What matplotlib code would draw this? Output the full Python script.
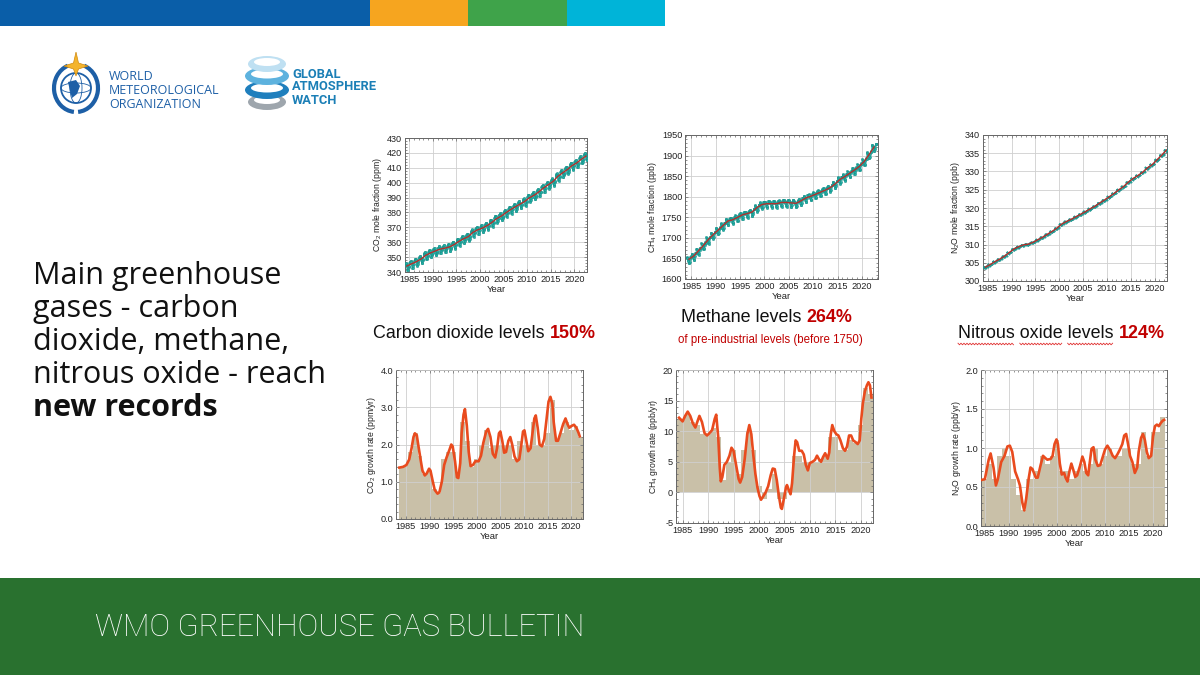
import numpy as np
import matplotlib
matplotlib.use("Agg")
import matplotlib.pyplot as plt
from matplotlib.patches import Rectangle, Ellipse, Circle, Arc, Polygon
from matplotlib.lines import Line2D
from matplotlib.ticker import MultipleLocator, FormatStrFormatter

plt.rcParams['font.family'] = ['Liberation Sans', 'DejaVu Sans']
plt.rcParams['mathtext.fontset'] = 'custom'
plt.rcParams['mathtext.rm'] = 'Liberation Sans'
plt.rcParams['mathtext.it'] = 'Liberation Sans:italic'

W, H = 1200, 675

# ---------------- data ----------------
years = list(range(1984, 2023))

# annual mean mole fractions (red trend lines)
co2_annual = [344.0, 345.5, 346.9, 348.7, 351.2, 352.8, 354.1, 355.3, 356.0, 356.8,
              358.4, 360.5, 362.3, 363.7, 366.6, 368.3, 369.5, 371.1, 373.2, 375.8,
              377.5, 379.8, 381.9, 383.8, 385.6, 387.4, 389.9, 391.6, 393.8, 396.5,
              398.6, 400.8, 404.2, 406.5, 408.7, 411.4, 413.2, 415.7, 417.9]
ch4_annual = [1648, 1656, 1669, 1682, 1696, 1708, 1719, 1730, 1741, 1744,
              1750, 1756, 1759, 1763, 1774, 1781, 1783, 1783, 1783, 1786,
              1786, 1785, 1784, 1790, 1797, 1801, 1806, 1811, 1816, 1822,
              1831, 1842, 1849, 1857, 1865, 1874, 1886, 1903, 1921]
n2o_annual = [303.8, 304.5, 305.3, 306.0, 306.8, 307.8, 308.8, 309.4, 309.9, 310.1,
              310.6, 311.3, 312.0, 312.8, 313.6, 314.5, 315.6, 316.3, 316.9, 317.6,
              318.3, 319.0, 319.8, 320.5, 321.4, 322.2, 323.1, 324.0, 325.0, 325.9,
              327.1, 328.1, 328.9, 329.8, 331.0, 331.9, 333.2, 334.5, 335.9]

# monthly departures from the annual mean (cyan points)
co2_season = [0.6, 1.1, 1.5, 1.9, 2.0, 1.0, -0.9, -2.5, -2.8, -1.5, -0.4, 0.2]
ch4_season = [5, 4, 2, -1, -5, -9, -10, -6, 1, 6, 7, 6]
n2o_season = [0.1, 0.05, -0.05, -0.15, -0.25, -0.3, -0.2, 0.05, 0.2, 0.25, 0.2, 0.1]

# annual growth rates (bars)
co2_bars = [1.4, 1.45, 1.8, 2.3, 1.7, 1.2, 1.3, 0.8, 0.7, 1.6,
            1.8, 1.8, 1.2, 2.6, 2.1, 1.4, 1.6, 2.0, 2.4, 1.9,
            2.0, 2.0, 2.0, 2.0, 1.6, 2.1, 2.0, 2.0, 2.6, 2.0,
            2.0, 2.3, 3.2, 2.1, 2.3, 2.6, 2.4, 2.5, 2.2]
ch4_bars = [12, 11.8, 12.8, 11.5, 11, 9.5, 9.5, 10.5, 9, 2,
            5, 7, 3, 7, 10, 7, 1, -1, 0.5, 3,
            -1, -1, 0.5, 6, 6, 5, 5, 5, 5.5, 6,
            9, 9, 7, 7, 8.5, 8, 11, 17, 16]
n2o_bars = [0.6, 0.6, 0.8, 0.6, 0.9, 1.0, 0.9, 0.6, 0.4, 0.2,
            0.6, 0.6, 0.7, 0.9, 0.8, 0.9, 1.1, 0.7, 0.7, 0.6,
            0.7, 0.8, 0.7, 0.8, 1.0, 0.8, 0.9, 1.0, 0.9, 0.9,
            1.0, 1.0, 0.8, 0.8, 1.2, 0.9, 1.2, 1.2, 1.4]

# smoothed growth-rate curves (red dotted curves)
co2_gr_t = [1983.6, 1984.4, 1985.1, 1985.7, 1986.2, 1986.6, 1986.9, 1987.3, 1987.6, 1988.1,
            1988.5, 1989.0, 1989.4, 1989.9, 1990.2, 1990.7, 1991.1, 1991.7, 1992.1, 1992.6,
            1993.1, 1993.6, 1994.2, 1994.6, 1994.9, 1995.4, 1995.8, 1996.1, 1996.5, 1996.8,
            1997.2, 1997.5, 1997.9, 1998.3, 1998.7, 1999.2, 1999.7, 2000.4, 2000.9, 2001.4,
            2002.0, 2002.4, 2002.9, 2003.4, 2003.9, 2004.3, 2004.7, 2005.0, 2005.4, 2005.8,
            2006.2, 2006.7, 2007.1, 2007.5, 2008.0, 2008.5, 2009.0, 2009.4, 2009.8, 2010.1,
            2010.5, 2010.9, 2011.4, 2011.8, 2012.2, 2012.5, 2012.9, 2013.3, 2013.8, 2014.3,
            2014.8, 2015.2, 2015.6, 2016.0, 2016.3, 2016.8, 2017.2, 2017.7, 2018.3, 2018.8,
            2019.2, 2019.6, 2020.1, 2020.6, 2021.1, 2021.6, 2021.8]
co2_gr_v = [1.38, 1.40, 1.45, 1.60, 1.90, 2.20, 2.30, 2.25, 2.00, 1.60,
            1.30, 1.17, 1.22, 1.35, 1.30, 1.00, 0.78, 0.68, 0.72, 1.00,
            1.45, 1.65, 1.85, 2.00, 1.95, 1.55, 1.12, 1.10, 1.50, 2.30,
            2.80, 2.95, 2.50, 1.80, 1.42, 1.45, 1.55, 1.55, 1.70, 2.05,
            2.35, 2.42, 2.20, 1.75, 1.65, 1.90, 2.30, 2.35, 2.10, 1.78,
            1.80, 2.10, 2.20, 2.00, 1.68, 1.55, 1.60, 1.95, 2.35, 2.38,
            2.10, 1.82, 1.90, 2.30, 2.70, 2.78, 2.45, 2.00, 1.95, 2.15,
            2.70, 3.15, 3.28, 3.10, 2.60, 2.10, 2.10, 2.30, 2.55, 2.70,
            2.55, 2.45, 2.50, 2.53, 2.45, 2.30, 2.22]

ch4_gr_t = [1984.3, 1985.0, 1985.5, 1986.0, 1986.5, 1987.0, 1987.5, 1988.0, 1988.3, 1988.8,
            1989.3, 1989.8, 1990.3, 1990.8, 1991.3, 1991.6, 1992.0, 1992.3, 1992.5, 1992.8,
            1993.2, 1993.7, 1994.2, 1994.6, 1995.0, 1995.5, 1996.0, 1996.3, 1996.7, 1997.2,
            1997.7, 1998.1, 1998.5, 1998.9, 1999.3, 1999.7, 2000.1, 2000.4, 2000.8, 2001.3,
            2001.8, 2002.3, 2002.7, 2003.1, 2003.5, 2003.9, 2004.3, 2004.5, 2004.9, 2005.3,
            2005.5, 2005.9, 2006.2, 2006.5, 2006.9, 2007.2, 2007.5, 2007.9, 2008.4, 2008.8,
            2009.2, 2009.6, 2010.0, 2010.5, 2011.0, 2011.4, 2011.8, 2012.2, 2012.6, 2013.0,
            2013.5, 2013.8, 2014.1, 2014.4, 2014.8, 2015.2, 2015.6, 2016.0, 2016.5, 2016.9,
            2017.3, 2017.7, 2018.1, 2018.5, 2019.0, 2019.4, 2019.8, 2020.1, 2020.4, 2020.8,
            2021.2, 2021.5, 2021.8, 2022.1]
ch4_gr_v = [12.2, 11.6, 12.5, 13.2, 12.5, 11.3, 10.6, 11.8, 12.5, 11.5,
            9.7, 9.3, 9.7, 10.2, 12.0, 12.7, 9.0, 4.0, 1.8, 2.5,
            4.5, 5.0, 6.0, 7.3, 6.8, 4.5, 2.2, 1.6, 2.5, 5.5,
            9.5, 11.0, 9.5, 6.0, 3.0, 0.8, -0.6, -1.2, -0.7, 0.0,
            1.0, 2.8, 3.9, 3.8, 2.0, -0.5, -2.5, -2.7, -1.0, 0.8,
            1.2, 0.3, -0.3, 1.5, 6.0, 8.5, 8.2, 6.8, 6.8, 6.2,
            4.5, 3.6, 4.8, 5.0, 5.3, 6.0, 5.4, 5.0, 5.8, 6.4,
            5.5, 6.5, 9.5, 11.0, 10.0, 9.5, 9.3, 8.5, 7.2, 6.8,
            7.5, 9.3, 9.3, 8.5, 8.2, 7.9, 8.5, 12.0, 14.5, 16.5,
            17.5, 18.0, 17.5, 15.5]

n2o_gr_t = [1984.3, 1985.0, 1985.8, 1986.2, 1986.8, 1987.3, 1987.7, 1988.4, 1989.1, 1989.7,
            1990.2, 1990.7, 1991.3, 1991.9, 1992.3, 1992.8, 1993.2, 1993.6, 1994.1, 1994.5,
            1994.9, 1995.6, 1996.0, 1996.6, 1997.1, 1997.6, 1998.0, 1998.7, 1999.1, 1999.5,
            1999.9, 2000.2, 2000.6, 2001.0, 2001.5, 2001.8, 2002.2, 2002.6, 2003.0, 2003.4,
            2003.8, 2004.2, 2004.8, 2005.3, 2005.7, 2006.1, 2006.5, 2006.8, 2007.2, 2007.6,
            2008.0, 2008.5, 2009.0, 2009.5, 2010.0, 2010.5, 2011.1, 2011.6, 2012.1, 2012.6,
            2013.1, 2013.6, 2014.0, 2014.4, 2014.8, 2015.2, 2015.7, 2016.2, 2016.7, 2017.0,
            2017.5, 2017.9, 2018.3, 2018.7, 2019.1, 2019.6, 2020.0, 2020.4, 2020.8, 2021.2,
            2021.6, 2022.0, 2022.3]
n2o_gr_v = [0.59, 0.60, 0.85, 0.93, 0.75, 0.52, 0.60, 0.82, 0.90, 1.02,
            1.03, 0.95, 0.70, 0.60, 0.52, 0.30, 0.20, 0.35, 0.60, 0.75,
            0.73, 0.62, 0.62, 0.78, 0.90, 0.87, 0.85, 0.86, 0.90, 1.05,
            1.11, 1.05, 0.80, 0.66, 0.68, 0.62, 0.57, 0.70, 0.80, 0.72,
            0.63, 0.65, 0.77, 0.89, 0.82, 0.68, 0.65, 0.80, 0.99, 1.01,
            0.85, 0.77, 0.78, 0.88, 0.98, 1.03, 0.97, 0.90, 0.87, 0.92,
            0.98, 1.05, 1.16, 1.18, 1.05, 0.90, 0.82, 0.68, 0.75, 0.95,
            1.13, 1.18, 1.10, 0.95, 0.87, 0.90, 1.15, 1.28, 1.30, 1.28,
            1.32, 1.35, 1.36]

headline = ["Main greenhouse", "gases - carbon", "dioxide, methane,",
            "nitrous oxide - reach"]
headline_bold = "new records"

# ---------------- figure ----------------
fig = plt.figure(figsize=(12, 6.75), dpi=100)


def rect(l, t, r, b):
    return [l / W, 1 - b / H, (r - l) / W, (b - t) / H]


# top colour strip
for x0, x1, c in [(0, 370, '#0a5ea8'), (370, 468, '#f6a51f'),
                  (468, 567, '#3fa34a'), (567, 665, '#00b4d8')]:
    fig.patches.append(Rectangle((x0 / W, 1 - 26 / H), (x1 - x0) / W, 26 / H,
                                 transform=fig.transFigure, color=c, lw=0))

# bottom banner
fig.patches.append(Rectangle((0, 0), 1, 97 / H, transform=fig.transFigure,
                             color='#29712f', lw=0))
fig.text(95 / W, 1 - 627 / H, "WMO GREENHOUSE GAS BULLETIN", color='white',
         family=['Roboto', 'DejaVu Sans'], fontweight='light', fontsize=22.2,
         va='center', ha='left')

# WMO emblem
lg = fig.add_axes(rect(46, 52, 106, 116))
lg.set_xlim(0, 60)
lg.set_ylim(0, 64)
lg.set_aspect('equal')
lg.axis('off')
wmo_blue = '#1d5fa6'
lg.add_patch(Circle((30, 28), 15, fill=False, ec=wmo_blue, lw=1.3))
lg.add_patch(Ellipse((30, 28), 12, 30, fill=False, ec=wmo_blue, lw=0.6))
lg.add_patch(Ellipse((30, 28), 30, 10, fill=False, ec=wmo_blue, lw=0.6))
lg.add_patch(Polygon([(22, 34), (30, 36), (34, 30), (31, 22), (26, 18), (24, 25)],
                     color=wmo_blue, lw=0))
lg.add_patch(Arc((30, 28), 44, 48, theta1=110, theta2=265, ec=wmo_blue, lw=3))
lg.add_patch(Arc((30, 28), 44, 48, theta1=275, theta2=70, ec=wmo_blue, lw=3))
lg.add_patch(Polygon([(30, 64), (32.5, 53), (42, 50), (32.5, 47), (30, 40),
                      (27.5, 47), (18, 50), (27.5, 53)],
                     fc='#f4b42c', ec='#d08a10', lw=0.5))
for i, word in enumerate(["WORLD", "METEOROLOGICAL", "ORGANIZATION"]):
    fig.text(109 / W, 1 - (77 + 14 * i) / H, word, color=wmo_blue,
             family=['Open Sans', 'DejaVu Sans'], fontsize=9, va='center')

# GAW logo
gl = fig.add_axes(rect(242, 52, 292, 116))
gl.set_xlim(0, 50)
gl.set_ylim(0, 64)
gl.set_aspect('equal')
gl.axis('off')
for y, w, h, c in [(14, 38, 16, '#9ea6ad'), (26, 44, 18, '#1f7fbd'),
                   (40, 44, 18, '#5db2de'), (52, 38, 16, '#bfe0f2')]:
    gl.add_patch(Ellipse((25, y), w, h, color=c, lw=0))
    gl.add_patch(Ellipse((25, y + 2), w - 12, h / 2, color='white', lw=0))
for i, word in enumerate(["GLOBAL", "ATMOSPHERE", "WATCH"]):
    fig.text(292 / W, 1 - (74 + 13 * i) / H, word, color='#1b7fb6',
             family=['Roboto', 'DejaVu Sans'], fontweight='bold', fontsize=9.3,
             va='center')

# headline on the left
for i, line in enumerate(headline):
    fig.text(33 / W, 1 - (284 + 33 * i) / H, line, color='#111111',
             family=['Open Sans', 'DejaVu Sans'], fontsize=22, va='baseline')
fig.text(33 / W, 1 - (284 + 33 * 4) / H, headline_bold, color='#111111',
         family=['Open Sans', 'DejaVu Sans'], fontweight='bold', fontsize=22,
         va='baseline')


def style(ax, xlim, ylim, ystep, fmt, ylabel):
    ax.set_xlim(*xlim)
    ax.set_ylim(*ylim)
    ax.xaxis.set_major_locator(MultipleLocator(5))
    ax.xaxis.set_minor_locator(MultipleLocator(1))
    ax.yaxis.set_major_locator(MultipleLocator(ystep))
    ax.yaxis.set_minor_locator(MultipleLocator(ystep / 5))
    ax.yaxis.set_major_formatter(FormatStrFormatter(fmt))
    ax.xaxis.set_major_formatter(FormatStrFormatter('%d'))
    ax.tick_params(which='both', direction='in', top=True, right=True,
                   color='#666666', width=0.5, labelsize=6.6,
                   labelcolor='#222222', pad=2)
    ax.tick_params(which='major', length=2.5)
    ax.tick_params(which='minor', length=1.5)
    ax.grid(True, which='major', color='#cfcfcf', lw=0.6)
    for sp in ax.spines.values():
        sp.set_color('#666666')
        sp.set_linewidth(0.7)
    ax.set_xlabel('Year', fontsize=6.8, labelpad=1, color='#222222')
    ax.set_ylabel(ylabel, fontsize=6.2, labelpad=2, color='#222222')


def level_panel(box, annual, season, xlim, ylim, ystep, ylabel, ms=1.7):
    ax = fig.add_axes(rect(*box))
    t_month = [y + (m + 0.5) / 12 for y in years for m in range(12)]
    v_month = [a + s for a in annual for s in season]
    ax.plot(t_month, v_month, color='#22b2a8', lw=0.6, marker='o', ms=ms,
            mec='#178a84', mew=0.3, zorder=3)
    ax.plot([y + 0.5 for y in years], annual, color='#b3302c', lw=1.0, zorder=4)
    style(ax, xlim, ylim, ystep, '%d', ylabel)
    return ax


def growth_panel(box, bars, ct, cv, xlim, ylim, ystep, fmt, ylabel):
    ax = fig.add_axes(rect(*box))
    ax.bar(years, bars, width=1.0, color='#c9c0a8', lw=0, zorder=1)
    ax.plot(ct, cv, color='#e94b1e', lw=1.9, zorder=3)
    ax.set_axisbelow(False)
    style(ax, xlim, ylim, ystep, fmt, ylabel)
    return ax


level_panel((405, 138, 587, 272), co2_annual, co2_season, (1984.1, 2022.7),
            (340, 430), 10, 'CO$_2$ mole fraction (ppm)')
level_panel((685, 135, 878, 279), ch4_annual, ch4_season, (1983.7, 2023.3),
            (1600, 1950), 50, 'CH$_4$ mole fraction (ppb)')
level_panel((983, 135, 1167, 281), n2o_annual, n2o_season, (1984.0, 2022.6),
            (300, 340), 5, 'N$_2$O mole fraction (ppb)', ms=1.0)

growth_panel((396, 370, 583, 519), co2_bars, co2_gr_t, co2_gr_v, (1982.9, 2022.5),
             (0, 4), 1.0, '%.1f', 'CO$_2$ growth rate (ppm/yr)')
growth_panel((676, 370, 873, 523), ch4_bars, ch4_gr_t, ch4_gr_v, (1983.7, 2022.4),
             (-5, 20), 5, '%d', 'CH$_4$ growth rate (ppb/yr)')
growth_panel((981, 370, 1167, 526), n2o_bars, n2o_gr_t, n2o_gr_v, (1984.2, 2022.9),
             (0, 2), 0.5, '%.1f', 'N$_2$O growth rate (ppb/yr)')

# panel headings with the red percentages
renderer = fig.canvas.get_renderer()
title_kw = dict(fontsize=12.9, family=['Liberation Sans', 'DejaVu Sans'])
dark_red = '#c00000'


def width_of(s, **kw):
    t = fig.text(0, 0, s, **kw)
    w = t.get_window_extent(renderer).width
    t.remove()
    return w


def heading(x_px, y_px, black, red):
    t = fig.text(x_px / W, 1 - y_px / H, black, color='#111111',
                 va='center', ha='left', **title_kw)
    x_end = t.get_window_extent(renderer).x1
    gap = width_of('a a', **title_kw) - width_of('aa', **title_kw)
    fig.text((x_end + gap) / W, 1 - y_px / H, red, color=dark_red,
             fontweight='bold', va='center', ha='left', **title_kw)


heading(373, 333, "Carbon dioxide levels", "150%")
heading(681, 318, "Methane levels", "264%")
fig.text(678 / W, 1 - 340 / H, "of pre-industrial levels (before 1750)", color=dark_red,
         fontsize=8.3, va='center', ha='left')
n2o_black = "Nitrous oxide levels"
heading(958, 333, n2o_black, "124%")

# spell-check squiggles under the three black words
words = n2o_black.split(' ')
for i, word in enumerate(words):
    prefix = ' '.join(words[:i + 1])
    x1 = 958 + width_of(prefix, **title_kw)
    x0 = x1 - width_of(word, **title_kw)
    xs = np.arange(x0, x1, 1.5)
    ys = 675 - 344 + np.where(np.arange(len(xs)) % 2 == 0, 0.8, -0.8)
    fig.add_artist(Line2D(xs / W, ys / H, transform=fig.transFigure,
                          color='#e03030', lw=0.6))

fig.savefig('out.png', dpi=100)
